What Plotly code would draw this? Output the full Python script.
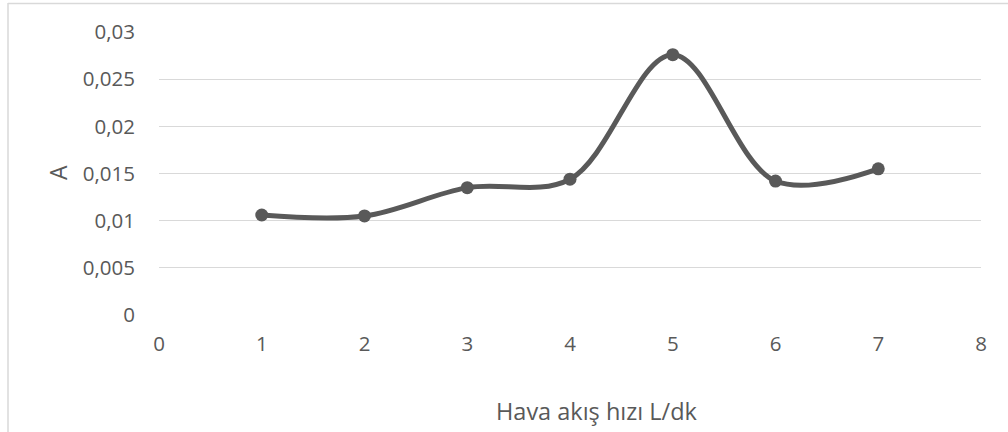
import plotly.graph_objects as go

flow_rate = [1, 2, 3, 4, 5, 6, 7]
absorbance = [0.0106, 0.0105, 0.0135, 0.0144, 0.0276, 0.0142, 0.0155]

y_tickvals = [0, 0.005, 0.01, 0.015, 0.02, 0.025, 0.03]
y_ticktext = ["0", "0,005", "0,01", "0,015", "0,02", "0,025", "0,03"]
x_tickvals = [0, 1, 2, 3, 4, 5, 6, 7, 8]
x_ticktext = ["0", "1", "2", "3", "4", "5", "6", "7", "8"]

x_title = "Hava akış hızı L/dk"
y_title = "A"

W, H = 1008, 432
L, R, T, B = 159, 27, 32, 117
pw, ph = W - L - R, H - T - B

def px_x(p):
    return (p - L) / pw

def px_y(p):
    return (H - B - p) / ph

GRAY = "#595959"
FONT = "Open Sans"
TICK = 20.5

fig = go.Figure()
fig.add_trace(go.Scatter(
    x=flow_rate, y=absorbance, mode="lines+markers",
    line=dict(color=GRAY, width=5, shape="spline", smoothing=1.0),
    marker=dict(color=GRAY, size=13),
    showlegend=False,
))

fig.update_layout(
    width=W, height=H,
    margin=dict(l=L, r=R, t=T, b=B),
    paper_bgcolor="white", plot_bgcolor="white",
    font=dict(family=FONT, color=GRAY, size=TICK),
    xaxis=dict(range=[0, 8], tickvals=x_tickvals, ticktext=x_ticktext,
               showgrid=False, zeroline=False, showline=False,
               ticks="", ticklabelstandoff=14,
               tickfont=dict(size=TICK, color=GRAY, family=FONT)),
    yaxis=dict(range=[0, 0.03], tickvals=y_tickvals, ticktext=y_ticktext,
               showgrid=True, gridcolor="#d9d9d9", gridwidth=1.3,
               zeroline=False, showline=False,
               ticks="", ticklabelstandoff=23,
               tickfont=dict(size=TICK, color=GRAY, family=FONT)),
    shapes=[
        dict(type="line", xref="paper", yref="paper",
             x0=px_x(8), x1=px_x(1010), y0=px_y(3.5), y1=px_y(3.5),
             line=dict(color="#d9d9d9", width=1.5)),
        dict(type="line", xref="paper", yref="paper",
             x0=px_x(8), x1=px_x(8), y0=px_y(3), y1=px_y(434),
             line=dict(color="#d9d9d9", width=1.5)),
    ],
    annotations=[
        dict(text=x_title, xref="paper", yref="paper",
             x=px_x(597), y=px_y(411), xanchor="center", yanchor="middle",
             showarrow=False, font=dict(size=23.5, color=GRAY, family=FONT)),
        dict(text=y_title, xref="paper", yref="paper",
             x=px_x(58), y=px_y(173), xanchor="center", yanchor="middle",
             textangle=-90, showarrow=False,
             font=dict(size=23, color=GRAY, family=FONT)),
    ],
)

fig.write_html("out.html",
               config={"displayModeBar": False},
               post_script="document.body.style.margin='0';document.body.style.overflow='hidden';")
